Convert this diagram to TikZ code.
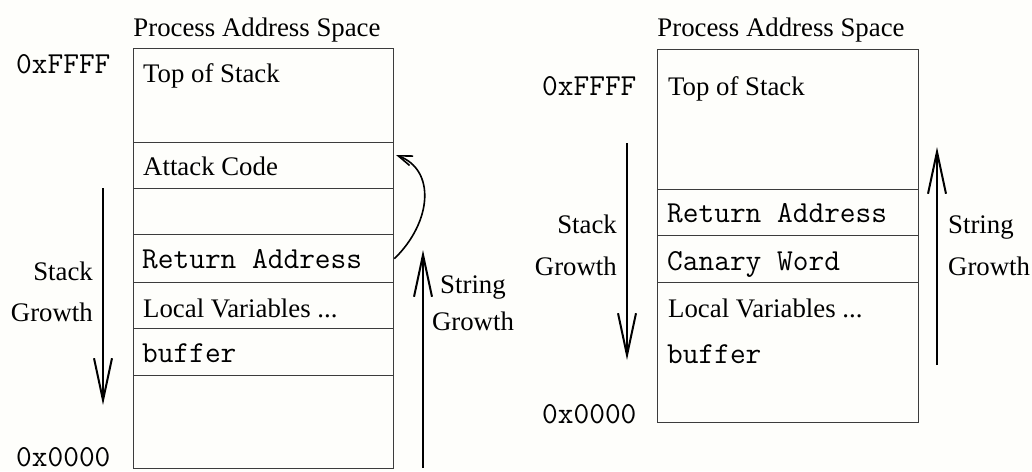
\documentclass[tikz,border=0pt]{standalone}
\usepackage{fontspec}
\setmainfont{Liberation Serif}
\setmonofont{Latin Modern Mono}
\usetikzlibrary{arrows.meta}
\definecolor{paper}{RGB}{254,254,251}
\definecolor{rule}{RGB}{60,60,60}
\tikzset{
  x=1pt, y=-1pt,
  cell/.style={draw=rule, line width=1.4pt, anchor=north west, inner sep=0pt, minimum width=260pt},
  txt/.style={inner sep=0pt, font=\fontsize{26.8}{28}\selectfont},
  mono/.style={inner sep=0pt, font=\fontsize{30.5}{32}\selectfont\ttfamily},
  growth/.style={line width=2pt, -{Straight Barb[length=42pt,width=18pt,line width=2pt]}},
  jump/.style={line width=1.6pt, -{Straight Barb[length=14pt,width=10pt,line width=1.6pt]}},
}
\begin{document}
\begin{tikzpicture}
\fill[paper] (0,0) rectangle (1032,471);
\useasboundingbox (0,0) rectangle (1032,471);

% ---------- unprotected stack ----------
\node[txt, anchor=base] (lt) at (257,36) {Process Address Space};
\node[cell, minimum height=94pt] (L0) at (133,48) {};
\node[cell, minimum height=46pt] (L1) at (133,142) {};
\node[cell, minimum height=46pt] (L2) at (133,188) {};
\node[cell, minimum height=48pt] (L3) at (133,234) {};
\node[cell, minimum height=46pt] (L4) at (133,282) {};
\node[cell, minimum height=47pt] (L5) at (133,328) {};
\node[cell, minimum height=93pt] (L6) at (133,375) {};

\node[txt, anchor=base west] (l0t) at (143,82) {Top of Stack};
\node[txt, anchor=base west] (l1t) at (143,175) {Attack Code};
\node[mono, anchor=base west] (l3t) at (142,268) {Return Address};
\node[txt, anchor=base west] (l4t) at (143,317) {Local Variables ...};
\node[mono, anchor=base west] (l5t) at (142,362) {buffer};

\node[mono, anchor=base west] (lhi) at (16,73) {0xFFFF};
\node[mono, anchor=base west] (llo) at (16,466) {0x0000};

\node[txt, anchor=base east] (ls1) at (93,280) {Stack};
\node[txt, anchor=base east] (ls2) at (93,321) {Growth};
\node[txt, anchor=base] (lg1) at (473,293) {String};
\node[txt, anchor=base] (lg2) at (473,330) {Growth};

\coordinate (lsA) at (103,188);
\coordinate (lsB) at (103,405);
\draw[growth] (lsA) -- (lsB);
\coordinate (lgA) at (423,468);
\coordinate (lgB) at (423,250);
\draw[growth] (lgA) -- (lgB);

\coordinate (jmp) at (396,155);
\draw[jump] (L3.east) .. controls (432,222) and (436,170) .. (jmp);

% ---------- stack with canary ----------
\node[txt, anchor=base] (rt) at (781,36) {Process Address Space};
\node[cell, minimum width=261pt, minimum height=140pt] (R0) at (657,49) {};
\node[cell, minimum width=261pt, minimum height=46pt] (R1) at (657,189) {};
\node[cell, minimum width=261pt, minimum height=47pt] (R2) at (657,235) {};
\node[cell, minimum width=261pt, minimum height=140pt] (R3) at (657,282) {};

\node[txt, anchor=base west] (r0t) at (668,95) {Top of Stack};
\node[mono, anchor=base west] (r1t) at (667,222) {Return Address};
\node[mono, anchor=base west] (r2t) at (667,270) {Canary Word};
\node[txt, anchor=base west] (r3t) at (668,317) {Local Variables ...};
\node[mono, anchor=base west] (r4t) at (667,363) {buffer};

\node[mono, anchor=base west] (rhi) at (542,95) {0xFFFF};
\node[mono, anchor=base west] (rlo) at (542,423) {0x0000};

\node[txt, anchor=base east] (rs1) at (617,233) {Stack};
\node[txt, anchor=base east] (rs2) at (617,275) {Growth};
\node[txt, anchor=base west] (rg1) at (948,233) {String};
\node[txt, anchor=base west] (rg2) at (948,275) {Growth};

\coordinate (rsA) at (627,143);
\coordinate (rsB) at (627,360);
\draw[growth] (rsA) -- (rsB);
\coordinate (rgA) at (937,365);
\coordinate (rgB) at (937,147);
\draw[growth] (rgA) -- (rgB);
\end{tikzpicture}
\end{document}
